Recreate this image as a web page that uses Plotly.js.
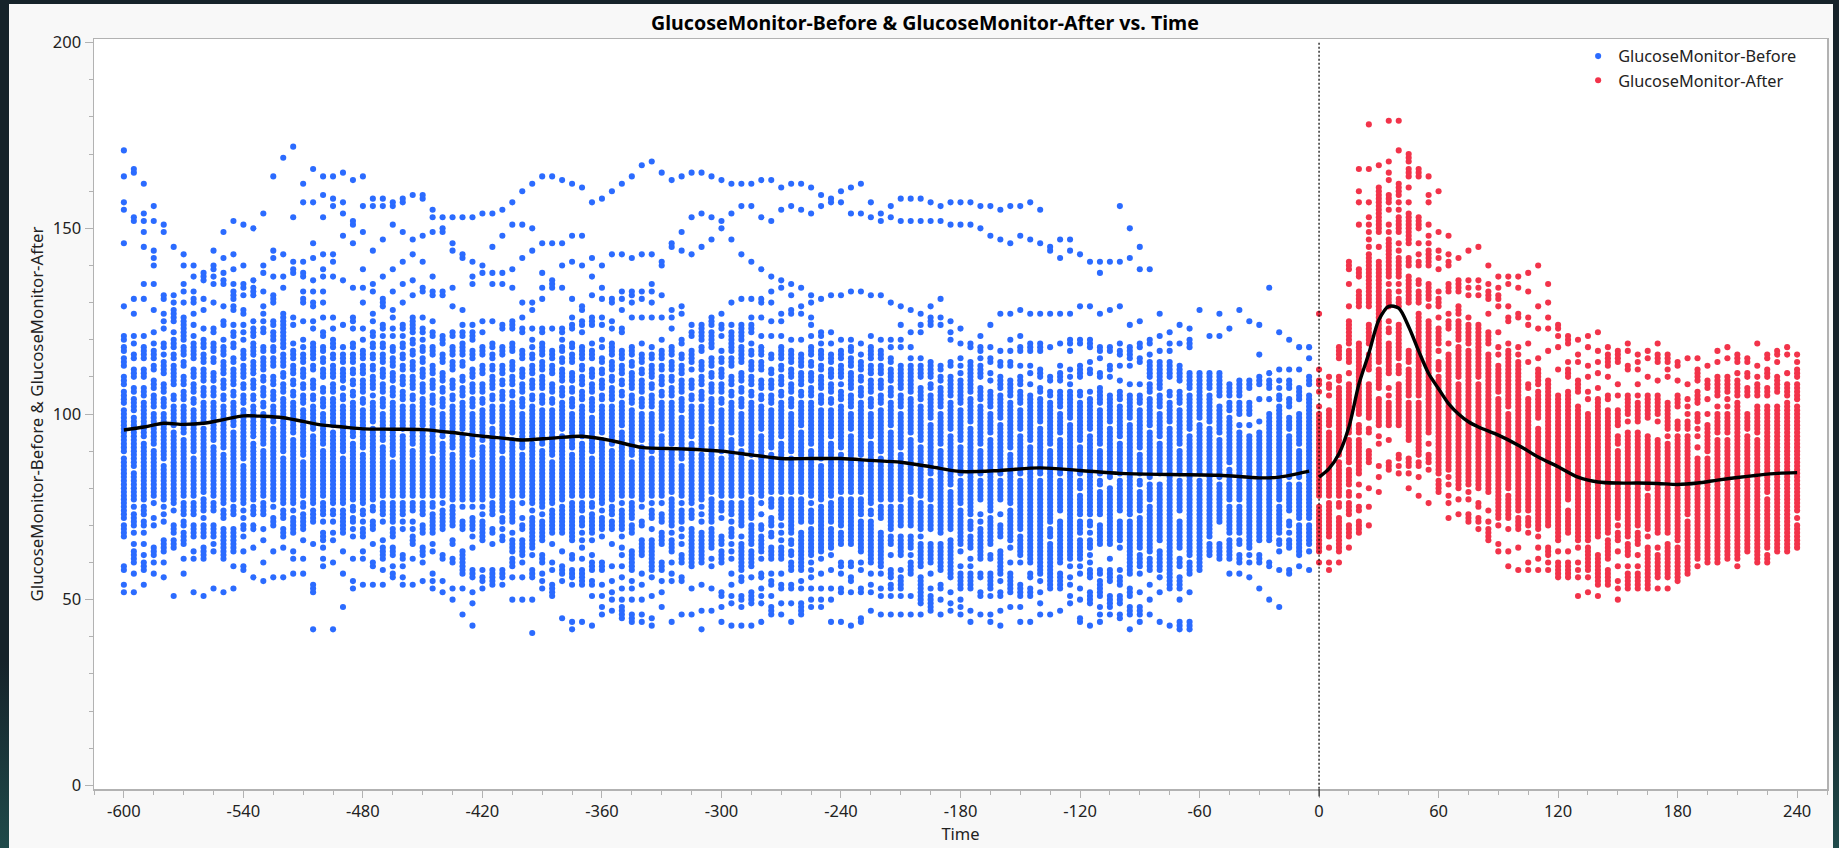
<!DOCTYPE html>
<html><head><meta charset="utf-8">
<script src="https://cdn.plot.ly/plotly-3.0.1.min.js"></script>
<style>
html,body{margin:0;padding:0;width:1839px;height:848px;overflow:hidden;background:linear-gradient(180deg,#16232a 0%,#16232a 78%,#1f4a4a 100%);}
#g{position:absolute;left:9px;top:4px;width:1824px;height:844px;}
</style></head><body><div id="g"></div>
<script>
// Column readings: each string is the glucose values seen at one time; "a-b" = every integer from a to b is drawn.
const beforeStart = -600, beforeStep = 5;
const beforeColumns = [
"52 54 58-59 67-70 72-77 78-88 90-101 103-106 108-110 113-115 117-118 120-121 129 146 155 157 164 171",
"52 57 60-63 65 68 70-73 75 77-84 86-99 101-104 106-107 110-112 115-116 119 121 127 131 152-153 165-166",
"54 58-60 62 65 68 70-71 73-75 77-92 94-103 105-107 110-112 115-118 121 131 135 145 149 152 154 162",
"57 60 62-64 70 72 76 78-90 92-100 102-105 107-109 112-113 115-117 119 122 128 135 140 142 144 152 156",
"56 60 63-66 71 73 75 77-86 88-100 102-104 106-108 111-114 116 118-119 123 125 127 131-132 149 151",
"51 64-66 68-70 74 76-95 97-102 104-105 108-113 115-116 118-120 122 125-128 130 132 145",
"57 61 65-68 70-71 73-76 78-93 95-102 104-106 108-110 113-114 116-118 120-126 130 133 135 140 143",
"52 61 63 67-70 73-76 78-88 90-101 103-104 106-108 110-112 115-119 121 124 127 130-131 133 137 140",
"51 61-64 67-70 72 74-77 79-96 98-103 105-107 109-112 114-116 118-120 123 128 131 136-138",
"53 63 65 67-70 74-76 78-91 93-103 105-107 109-111 114-115 117-119 122-123 130 135 137 139-140 144",
"52 61-69 72-74 76-89 91-102 104-105 107-109 111-114 116-118 120 124-125 129 135-136 138 142 149",
"53 59 63-69 73-75 77-95 97-103 105-106 108-112 114-115 118-119 121-122 124 128-129 131-133 135 139 143 152",
"58-59 63 67 69-70 72 74 76-86 88-101 103-105 107-108 110-113 115-117 120 122 124 127-128 132 134-135 140 151",
"56 64 69-70 73-75 77-92 94-102 104-105 107-109 111-114 116-119 121-123 125 132-134 136 150",
"55 60 66 69 73-76 78-90 92-100 102-103 105-107 109-110 112-115 117-118 122-123 125 127 129 133 138 140 154",
"56 63 70-72 75 77-96 98-102 104-106 108-110 113-115 117-118 120-122 124-125 130-132 137 142 144 164",
"56 64 67-69 72-74 76-88 90-104 106-108 110-111 113-116 118-119 120-127 134 137 143 169",
"57 61 63 68-72 74 76-93 95-103 105-106 108-109 111-113 115-117 119 124 126 138-139 141 153 172",
"57 61 66 69-73 75-76 78-87 89-101 103-105 107-108 110-112 114-116 118 120 125 130-131 133 137-138 141 157 162",
"42 52-54 65 71-74 76-94 96-102 104-105 107-109 112-113 115-119 123 125 129-130 133 136 142 146 157 166",
"59 61 64 66-68 71 73-76 78-90 92-100 102-104 106-107 110-112 114-115 117-118 121-122 126 130 133 137 139 143 153 159 164",
"42 60 66 68 71 73-74 76-95 97-104 106-108 110-113 115-116 118-120 123 126 137 141 143 156 158 164",
"48 57 63 68-74 76-88 90-102 104-105 107 109-112 114-116 118 124 136 148 154 157 165",
"53 55 61 67 69 71-72 74-75 77-92 94-103 105-106 108-109 111-112 114-116 118-119 123 125-126 134 146 151-152 163",
"54 61 63 67-69 71 73-74 76-89 91-101 103-104 106-109 111-113 115-117 120 123 130 134 139 149 156 164",
"54 59-60 65 69-71 74-75 77-96 98-103 105 107-110 112-113 115-116 118-119 121-122 125 127 133 135 144 156 158",
"54 58 61-64 66 71 73-76 78-91 93-100 102-104 106-108 110-112 114-116 118-119 121 123-124 129-131 137 147 156 158",
"56-57 59 62-64 67-69 71-76 78-87 89-103 105-107 109-111 113-115 117-118 121 123 126 128 133 139 151 156-157",
"54 56 59 61-62 69 71 73-76 78-94 96-102 104-106 108-110 112-113 115-116 118-119 121 123-124 130 135 141 149 157-158",
"54 61 65-67 69 71 74-76 78-90 92-102 104-105 107-110 112-114 116-117 119-120 122-126 132 136 143 147 159",
"55 60 62-64 68-70 73-76 78-95 97-104 106-108 110-112 114-115 117-118 120 122-123 126 133-134 141 148 158-159",
"53 55 57 63 65 68-73 75-76 78-88 90-101 103-105 107-109 111-113 116-118 121-122 125 132-133 137 149 153 155",
"52 55 61-62 69-74 76 78-92 94-100 102-104 106-107 109-111 114-116 119-121 132-133 149-150 153",
"50 53 60-61 65-66 70-75 77-89 91-102 104-105 107-109 112-114 116-118 121-122 129 134 144 146 153",
"46 53 57-63 69-71 75 77-94 96-103 105-107 109-110 113-114 116-119 121-122 124 128 142-143 153",
"43 49 52 56-58 64 67 69-72 75 77-87 89-100 102-104 106-108 110-112 115-117 120-122 124 135 137 141 153",
"53 55-56 58 66-71 73 75 77-91 93-101 103-104 106-108 111-113 116-118 122 125 138 140 154",
"54-58 65 68-69 73-76 78-96 98-102 104-105 107-110 112-113 115-116 118-119 125 135 138 145 154",
"54 56-58 66-67 69 71-72 74-88 90-102 104-106 108-109 111-113 116-118 123-124 135 138 148 155",
"50 56 59-61 63-66 68 71-76 78-93 95-103 105-106 108-110 112-114 117-119 123-125 134 139 151 157",
"50 56 60 62-66 69-70 72 76 78-89 91-100 102-104 106-108 110-112 115-117 122-123 126 130 142 151 160",
"41 50 56-58 62 64-72 74 76-92 94-102 104-105 107-109 111-113 115-116 118 120 123 128 130 144 150 162",
"53 55 57 60-62 66-71 73 75-90 92-101 103-105 107-110 112-114 116-119 122-123 131 134 138 146 164",
"51-54 58 60 65 68-74 76-87 89-101 103-104 106-108 111-113 115-117 123 134-136 146 164",
"45 55 57-59 63 68-75 77-94 96-103 105-107 109-112 114-115 117-118 120 122-123 134 140 146 163",
"42 44 54 56-58 61-62 66-76 78-89 91-100 102-104 106-107 109-111 114-116 118-119 123-124 126 131 141 148 162",
"44 54-58 61 64 66 68 70-72 74-76 78-92 94-102 104-106 108-110 112-113 115-118 122 124-125 128-129 140 148 161",
"43 51 54-55 58-60 62 66 68-73 75-76 78-88 90-99 101-104 106-108 110-112 115-117 119 124-126 132 137 142 157",
"46 48 51 54 58-60 67 69-72 74 76-93 95-102 104-105 107-109 111-112 114-115 118 120 124 126 131 134 140 158",
"47 50 52 55 59 65 69-71 73-75 77-90 92-102 104-107 109-110 112-114 116-119 123 125 130-131 143 160",
"45-48 50 53 56 59 62 64 67 69-74 76 78-95 97-103 105-106 108-109 111-113 115-117 122-123 128 131 133 143 162",
"44-46 50 53 55 58-63 68-70 72-76 78-87 89-101 103-105 107-111 113-114 116-118 126 130 132-133 142 164",
"44 46 50 54 57 62-66 70-71 75 77-91 93-100 102-104 106-109 111-112 114-116 119 126 131 133 143 167",
"43 45 51 56 58-66 69 72-74 76 78-88 90-100 102-105 107-108 110-113 115-116 118 126 130 133 135 143 168",
"48 52 55 58-60 65-68 71-73 76 78-94 96-103 105-106 108-110 112-113 115-117 120 126 132 140-141 165",
"44 55 57 60 63-66 68 70-77 79-90 92-103 105-107 109-110 112-114 116-118 123 126 128 145-146 163",
"46 55-56 60-62 65 67 69 71-74 76 78-86 88-99 101-104 106-109 111-113 115-116 119-120 127 129 144 149 164",
"46 53 59-68 69 72-74 76-92 94-102 104-105 107-109 112 114-117 121-122 124 143 153 165",
"42 47 54 60-68 71 73 75 77-89 91-102 104-106 108-110 112-114 117-118 120-123 124 145 154 165",
"47 53 59 61 64-69 71-77 79-96 98-104 106-108 110-111 113-115 118-119 120-122 124-126 147 153 164",
"44 48 51-52 60-63 65-67 72 74-76 78-88 90-101 103-104 106-108 110-112 114-115 117 121 123-124 127 150 152 163",
"43 49 51 54 57 61 63 65 67-69 71 73-76 78-93 95-103 105-106 108-110 113-115 117-119 120-122 124 130 147 154 162",
"43 48 50-51 55-56 58-65 67 70-76 78-90 92-100 102-104 106-107 109-111 114-118 120-124 131 143 156 162",
"43 49-52 56 59-63 65-70 72-77 79-87 89-103 105-106 108-110 112-114 116-117 119 122-124 126 131 141 156 162",
"44 49 51 53 56-57 61 63-67 69-70 73 76 78-94 96-102 104-105 107-109 112-114 116-118 121 126 130-131 139 153 163",
"46-48 51 54-55 57 61-64 67-68 70-72 75-77 79-89 91-101 103-105 107-109 111-112 115-116 121 125 130 133 137 152 163",
"46 49 53-54 57 61-64 66 68 70 72-77 79-92 94-103 105-106 108-110 112-113 115-118 121 125 127 134 136 155 161",
"44 49 53-54 58-60 62-63 65-66 68-77 79-88 90-100 102-104 106-108 110-112 114-117 120 127-128 132 135 156 162",
"46-49 53 55 58-68 71-77 79-95 97-103 105-106 108-111 113-116 120 127 129 134 155 162",
"48 50 53 56 58 60 62-69 71-74 76 78-90 92-103 105-107 109-111 113-114 116-118 121 124 126 130 132 154 161",
"48 50 53 57 61 63-75 77-86 88-101 103-105 107-110 112-113 115-117 119 121-122 131 156 159",
"44 50 53 58 62 64-69 71-76 78-92 94-101 103-104 106-108 110-112 114-116 119 122 132 157-158",
"44 52-53 57 59-60 65-68 70-77 79-89 91-102 104-106 108 110-113 115-117 120 132 157 160",
"43 52 55-56 59-60 65-73 74-77 79-94 96-100 102-105 107-111 113-115 117-118 120 133 154 161",
"44-45 52-53 58 60 63-71 73-77 79-87 89-103 105-107 109-110 112-114 116 119 133 154 162",
"47 52 54 57 60-71 73-74 76-92 94-100 102-104 106-109 111-113 115-118 121 132 153 157",
"46 51 53 57 59-68 72-75 77-88 90-101 103-105 107-109 111-113 115-117 120 132 152 154",
"46 51 53-54 56-58 62 65-67 69-75 77-95 97-103 105-107 109-112 114-115 118 120 130 153 156",
"46 51 53-56 58 62-67 70-75 77-89 91-100 102-105 107-109 110-113 118 120 124 129 152 158",
"46 51 57-60 62 64-67 70-77 79-93 95-104 106-108 109-113 115 118 122 128 152 158",
"46 49-51 52-56 59-65 67 69-76 78-82 83-91 93-102 104-106 107 110-113 115 122 124 127 152 158",
"47-51 53 57 60-65 69-75 77-82 84-97 99-105 107-108 110-114 124-126 129 152 157",
"46 50 53-54 58-65 68-82 83-90 92-100 102-106 107 109-110 112-113 124 126 131 152 156",
"47 49 52 56-66 69-79 81-82 83-94 96-103 105-108 109-110 113-114 120 122 125 151 157",
"46 48 50 53-57 59 63 65-74 76-82 84-91 93-101 103-106 107-109 111 113 115 119 123 151 157",
"44 47 53-57 59 61 64-67 69-71 73-82 83-96 98-104 106-108 109-114 118-119 151 157",
"46 51-52 56-57 61-69 71 73 77-82 84-90 92-102 104-107 110-113 115 117-118 121 150 156",
"44 46 51 53-57 61-62 65-72 74-82 83-93 95-100 102-106 109 111 114-115 118 124 148 156",
"43 47 51-52 55 57-63 67-70 73 77-82 84-97 99-105 107-110 113-114 117 127 147 155",
"48 52-57 60 64 66-74 76-82 83-89 91-103 105-106 107-109 113-114 117 120 127 146 156",
"44 48 51-54 60 62-67 69-82 84-94 96-101 103-106 108-110 113 117-118 121 128 148 156",
"44 51-53 56-57 60-82 83-91 93-105 108 111 113 117-119 127 147 157",
"46 49 52 55 57-82 84-96 98-104 106-107 110-112 117-119 127 146 155",
"46 53-64 65 67-69 71-82 83-90 92-103 105-106 109-110 118 127 144-145",
"47 53-57 60-71 74-82 84-93 95-100 102-106 109-111 113 119 127 142 147",
"49 51 54 56 59 61-82 83-97 99-106 108 110 112 117 119-120 127 144 147",
"44-45 50 53 57 59 61-66 68-71 73-78 80-82 84-91 93-103 105-106 110-113 119-120 129 143",
"43 49-52 56-58 60 62 64-66 68 70-71 73-82 83-94 96-104 106 111-112 114 118-120 129 141",
"44 46 48 51-55 57-58 65-70 73-79 81-82 84-90 92-101 103-106 107 110-111 115 117-118 127 138 141",
"46 48-51 55-58 61 65-80 83-96 98-105 110 112-113 117-118 128 141",
"45-46 49-51 54-56 58 64 66-71 74-82 84-92 94-102 104-106 109 113 116-117 119 129 141 156",
"42 46-48 51-53 57-71 73-82 83-97 99-105 108 113 115-118 124 142 150",
"44 46-48 52 57 59-62 64-72 74-79 81-82 84-89 91-101 103-105 108 114-115 118-119 125 139 145",
"46 50 54 58-61 63-75 77-81 83-95 97-104 106-108 110-114 116 119-120 139",
"44 52 56 58-63 66-81 84-92 94-100 102-105 107-110 111-114 117 121 127",
"43 53-64 65-82 83-96 98-103 105-106 110-114 117 119 122",
"42-44 50 53-56 59-61 64-71 74-82 84-90 92-101 103-106 109-113 119 124",
"42-44 52 57-60 62-82 83-94 96-105 107-111 118-120 123",
"58-66 67-82 84-97 99-105 106-111 128",
"62-65 67-82 83-96 98-105 107-111 121",
"61-65 71-81 83-93 95-102 105-111 121 127",
"57 61-66 68-75 77-82 83-85 87-99 101-103 105-108 123",
"57 60-62 65-66 68-75 77-82 83-95 97 100-103 105-109 128",
"56 60 62 64-82 83-94 97 100-103 107-109 125 ",
"53 60-62 66-82 83-95 98 104 108-110 116 124",
"50 59-60 66-82 83-100 104 107-109 111 134",
"48 58 63 65-66 68-75 77-82 83-102 104-105 107 109 112 122",
"57-58 64-66 68 70-71 74-81 83-94 96-99 102-104 107-109 112 120",
"59 62-70 72-81 83-90 92-100 104-107 112 118",
"58 63 65-70 72-82 83-105 108-110 115 118"
];

const afterStart = 0, afterStep = 5;
const afterColumns = [
"60 63-66 67-75 78-87 88-100 102 106 108-109 112 127",
"58 60 64 67-76 78-88 89-95 97-101 105 107-108 110",
"60 63-64 64-72 75-76 78-87 89-107 109-110 115-118",
"64 67-70 73-76 78-79 81-85 87-93 95-108 111 114-117 119-125 129 135 139-141",
"68-71 74-75 78 81 84-93 95-97 100-119 129-133 137-139 151 157 160 166",
"70 75 80 87-90 95-96 99-108 112-116 119-124 129-140 141-143 145 147 149 151 153 157 166 178",
"79 83 86 92 94 97-104 107-112 114-128 129-141 145 149-154 155-161 167",
"85-87 93 97-103 105 107 111-119 122-123 125 129-133 135 137-140 141-147 149 151 155 157-159 163 165 168 179",
"84 86 88-89 97-103 104-108 111-113 115-124 129-131 133 135 137-142 144 146 149-150 151-153 155 157 159-162 171 179",
"80 84 86-88 93-96 97-103 105-112 114-117 130-137 140-142 146-150 151-153 154 157 161 164-166 168-170",
"78 83 86-87 89-95 96-103 105-108 109-127 130-133 135-136 140-141 143 146 150-153 164-166",
"76 85 87-89 92 95 96-102 103-113 114-118 119-125 129 131-135 140-144 146 148 151 157 159 164",
"79-82 84-110 112-114 117 119 120-123 126 129-131 133 139 142 144 149 160",
"72 76 78 81 83 85-88 89-116 119 123-125 127 133-135 140-141 143 148",
"73 77 80-83 84-108 110-113 114-118 120-125 127-129 133-136 142",
"71-73 77 79 81-106 106-113 114-117 119-124 126 132 134 136 144",
"69 71-72 75-76 80-83 84-108 110-118 119-124 132 134 136 145",
"66-69 71 74 79 80-115 116 119-122 127 131-133 135 140",
"63 65 70 72-82 83-98 99-104 106-113 116 118 122 129 131-132 134 137",
"59 63 69 72-78 80-100 102 103-113 114-116 117 119 125-126 129 135 137",
"58 64 69-72 74-77 78-99 100-114 116 118 126-127 134 137",
"58 60 68 70-72 74-100 101-104 107-108 114 119 124 126 133 138",
"58 61 64 67 69-72 72-96 99-106 108-112 115 123 129 140",
"58 60 62-64 70-73 74-81 82-101 102-109 117 123 126 130 135",
"56-59 60 63 66-105 112 118 121 123-124",
"56-60 63 68-74 77-102 103-106 110-112 114 119-121",
"51 56 58 60 64 66-102 106 107-109 114 116 120",
"52 56 58 59-64 66-100 104 106 110 113 118 121",
"51 54-56 57-59 60-62 67 68-104 107 111 114 117 122",
"54-58 61 62 63-66 68-101 104-105 110 113 114-116 118",
"50 53 55 59 63 66-68 70 72-90 92-94 97-101 105 108 114-117",
"53 54-57 59 62-65 67-95 98 100-104 105 112-113 117 119",
"53-57 59 62 65-68 70-95 98 99-103 105 108 112 114 116",
"53-60 61-64 67 69-78 80-94 99-105 110 115 117",
"53 56-62 64 68-93 98 100-105 109 114-116 119",
"53 56-65 68-92 94 96-103 110 112 114-116",
"55 56-64 66-94 96-98 102-105 109 113-114",
"57 58-67 68-71 73-94 96-98 100 102 104 108 115",
"59 61-88 91 94 96 98-100 103 104-106 109 110-112 115",
"60-87 88 90-97 100 104 107-109 113",
"60-62 61-89 90-93 95-100 102 105-110 114 117",
"61-93 95-100 102 104 106-110 115 118",
"59 61-98 99-103 105-109 111 114-116",
"63-94 96-100 105-107 110-111 114-115",
"60-62 63-93 95-102 105-108 110 113 119",
"60-62 64-71 72-77 79 80-102 105-107 110-112 115-116",
"63-102 106-110 114 116-117",
"63-101 102-103 105-108 111 116 118",
"64-70 72 74-79 80-102 104-108 110-112 114 116"
];

const smoothBeforeTime = [-600,-590,-580,-570,-560,-550,-540,-530,-520,-510,-500,-490,-480,-465,-450,-435,-420,-410,-400,-385,-370,-355,-340,-320,-300,-285,-270,-255,-240,-225,-210,-195,-180,-160,-140,-120,-100,-75,-50,-30,-20,-10,-5];
const smoothBeforeValue = [95.7,96.5,97.5,97.2,97.5,98.5,99.5,99.4,99,98,97,96.5,96,95.9,95.8,95,94,93.5,93,93.5,94,92.8,91,90.6,90,89,88,88,88,87.5,87,85.8,84.5,84.8,85.5,84.8,84,83.7,83.5,82.8,83,84,84.6];
const smoothAfterTime = [0,5,10,15,20,25,30,35,40,45,50,55,60,65,70,75,80,90,100,110,120,130,140,150,160,170,180,190,200,210,220,230,240];
const smoothAfterValue = [83,85.3,89.3,96.5,108,116.3,125.3,129,128.5,123.5,117,110.9,106.8,102.8,100,97.9,96.5,94.3,91.6,88.4,85.8,83,81.7,81.4,81.4,81.3,81,81.4,82.2,82.9,83.5,84,84.2];

const TITLE = "GlucoseMonitor-Before & GlucoseMonitor-After vs. Time";
const XTITLE = "Time";
const YTITLE = "GlucoseMonitor-Before & GlucoseMonitor-After";
const NAME_BEFORE = "GlucoseMonitor-Before";
const NAME_AFTER = "GlucoseMonitor-After";
const XTICKS = [-600,-540,-480,-420,-360,-300,-240,-180,-120,-60,0,60,120,180,240];
const YTICKS = [0,50,100,150,200];

function expand(columns,start,step){
  const xs=[],ys=[];
  columns.forEach((s,i)=>{
    const seen=new Set();
    s.trim().split(/\s+/).forEach(tok=>{
      const p=tok.split('-').map(Number);
      const a=Math.min(p[0],p.length>1?p[1]:p[0]), b=Math.max(p[0],p.length>1?p[1]:p[0]);
      for(let v=a;v<=b;v++) seen.add(v);
    });
    seen.forEach(v=>{xs.push(start+i*step);ys.push(v);});
  });
  return {xs,ys};
}
const B=expand(beforeColumns,beforeStart,beforeStep);
const A=expand(afterColumns,afterStart,afterStep);
const FONT='"Noto Sans","Open Sans",sans-serif';
const BLUE='#2b6bff', RED='#f2334a', AX='#b2b2b2', TXT='#222222';
const marker=c=>({color:c,size:6.1,line:{width:0}});
const traces=[
 {type:'scatter',mode:'markers',name:NAME_BEFORE,x:B.xs,y:B.ys,marker:marker(BLUE),cliponaxis:false},
 {type:'scatter',mode:'markers',name:NAME_AFTER,x:A.xs,y:A.ys,marker:marker(RED),cliponaxis:false},
 {type:'scatter',mode:'lines',showlegend:false,x:smoothBeforeTime,y:smoothBeforeValue,line:{color:'#000',width:3.4,shape:'spline',smoothing:0.8}},
 {type:'scatter',mode:'lines',showlegend:false,x:smoothAfterTime,y:smoothAfterValue,line:{color:'#000',width:3.4,shape:'spline',smoothing:0.8}}
];
const layout={
 width:1824,height:844,
 paper_bgcolor:'#f8f8f8',plot_bgcolor:'#ffffff',
 font:{family:FONT,size:16.5,color:TXT},
 margin:{l:85,r:5.5,t:35,b:59,pad:0},
 title:{text:'<b>'+TITLE+'</b>',font:{family:FONT,size:19.6,color:'#000'},x:0.4795,xref:'paper',xanchor:'center',y:0.977,yanchor:'middle'},
 xaxis:{range:[-615,255],tickmode:'array',tickvals:XTICKS,ticktext:XTICKS.map(String),showgrid:false,zeroline:false,
   showline:true,linecolor:AX,linewidth:1.5,mirror:true,ticks:'outside',ticklen:7,tickcolor:AX,tickwidth:1,
   minor:{dtick:15,tick0:0,ticks:'outside',ticklen:4,tickcolor:AX,tickwidth:1,showgrid:false},
   tickfont:{size:16.5,color:TXT},title:{text:XTITLE,font:{size:16.5,color:TXT},standoff:3}},
 yaxis:{range:[-1,201],tickmode:'array',tickvals:YTICKS,ticktext:YTICKS.map(String),showgrid:false,zeroline:false,
   showline:true,linecolor:AX,linewidth:1.5,mirror:true,ticks:'outside',ticklen:8,tickcolor:AX,tickwidth:1,
   minor:{dtick:10,tick0:0,ticks:'outside',ticklen:4,tickcolor:AX,tickwidth:1,showgrid:false},
   tickfont:{size:16.5,color:TXT},title:{text:YTITLE,font:{size:16.8,color:TXT},standoff:5}},
 legend:{x:0.8564,xanchor:'left',y:1.0,yanchor:'top',bgcolor:'rgba(0,0,0,0)',borderwidth:0,font:{size:16.3,color:TXT},itemwidth:30,tracegroupgap:0},
 shapes:[
  {type:'line',xref:'x',yref:'y',x0:0,x1:0,y0:200,y1:-1,line:{color:'#000',width:1.2,dash:'2px,2px'},layer:'above'},
  {type:'line',xref:'x',yref:'paper',x0:0,x1:0,y0:0,y1:-0.01,line:{color:'#000',width:1}}
 ],
 hovermode:false,showlegend:true
};
Plotly.newPlot('g',traces,layout,{displayModeBar:false,staticPlot:true});
</script></body></html>
